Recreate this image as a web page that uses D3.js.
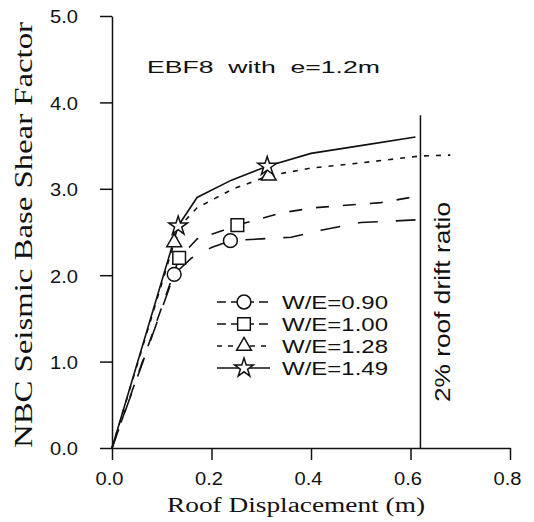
<!DOCTYPE html>
<html>
<head>
<meta charset="utf-8">
<script src="https://cdn.jsdelivr.net/npm/d3@7/dist/d3.min.js"></script>
<style>
  html, body { margin: 0; padding: 0; background: #fff; }
  svg { display: block; }
  text { fill: #111; }
</style>
</head>
<body>
<svg id="chart" width="534" height="522"></svg>
<script>
// Axis ticks
const xTicks = [0, 0.2, 0.4, 0.6, 0.8];
const yTicks = [0, 1, 2, 3, 4, 5];

// Legend labels, one per wall/earthquake ratio
const seriesLabels = ["W/E=0.90", "W/E=1.00", "W/E=1.28", "W/E=1.49"];
const seriesSymbols = ["circle", "square", "triangle", "star"];

// Pushover curves: roof displacement (m) vs. base shear factor
const curve090X = [0, 0.125, 0.16, 0.20, 0.238, 0.30, 0.36, 0.42, 0.50, 0.61];
const curve090Y = [0, 2.01, 2.20, 2.32, 2.40, 2.42, 2.44, 2.52, 2.61, 2.64];

const curve100X = [0, 0.135, 0.171, 0.224, 0.252, 0.339, 0.405, 0.54, 0.62];
const curve100Y = [0, 2.20, 2.42, 2.52, 2.58, 2.72, 2.78, 2.84, 2.92];

const curve128X = [0, 0.125, 0.145, 0.171, 0.244, 0.315, 0.40, 0.50, 0.62, 0.68];
const curve128Y = [0, 2.38, 2.62, 2.78, 3.00, 3.15, 3.24, 3.30, 3.38, 3.39];

const curve149X = [0, 0.133, 0.171, 0.24, 0.312, 0.40, 0.50, 0.61];
const curve149Y = [0, 2.57, 2.90, 3.10, 3.26, 3.41, 3.50, 3.60];

// Marked points on each curve
const mark090X = [0.125, 0.238];
const mark090Y = [2.01, 2.40];
const mark100X = [0.135, 0.252];
const mark100Y = [2.20, 2.58];
const mark128X = [0.125, 0.315];
const mark128Y = [2.38, 3.15];
const mark149X = [0.133, 0.312];
const mark149Y = [2.57, 3.26];

// 2% roof drift limit
const driftX = 0.62;
const driftTop = 3.85;

const svg = d3.select("#chart");
const x = d3.scaleLinear().domain([0, 0.8]).range([112, 510]);
const y = d3.scaleLinear().domain([0, 5]).range([448, 16]);

const plotFont = "'Liberation Sans', Arial, sans-serif";
const serifFont = "'Liberation Serif', 'Times New Roman', serif";

const zip = (xs, ys) => xs.map((v, i) => [v, ys[i]]);

const series = [
  { label: seriesLabels[0], sym: seriesSymbols[0], line: zip(curve090X, curve090Y), marks: zip(mark090X, mark090Y), dash: "20,18" },
  { label: seriesLabels[1], sym: seriesSymbols[1], line: zip(curve100X, curve100Y), marks: zip(mark100X, mark100Y), dash: "13,14" },
  { label: seriesLabels[2], sym: seriesSymbols[2], line: zip(curve128X, curve128Y), marks: zip(mark128X, mark128Y), dash: "5,7" },
  { label: seriesLabels[3], sym: seriesSymbols[3], line: zip(curve149X, curve149Y), marks: zip(mark149X, mark149Y), dash: null }
];

const symbolGen = {
  circle: d3.symbol().type(d3.symbolCircle).size(150),
  square: d3.symbol().type(d3.symbolSquare).size(160),
  triangle: d3.symbol().type(d3.symbolTriangle).size(95),
  star: d3.symbol().type(d3.symbolStar).size(110)
};

// Axes
const xAxis = d3.axisBottom(x).tickValues(xTicks).tickSize(12).tickSizeOuter(0)
  .tickFormat(d3.format(".1f"));
const yAxis = d3.axisLeft(y).tickValues(yTicks).tickSize(12).tickSizeOuter(0)
  .tickFormat(d3.format(".1f"));

const gx = svg.append("g").attr("transform", "translate(0,448)").call(xAxis);
const gy = svg.append("g").attr("transform", `translate(${x(0)},0)`).call(yAxis);

[gx, gy].forEach(g => {
  g.selectAll("path, line").attr("stroke", "#111").attr("stroke-width", 1.5);
  g.selectAll("text")
    .attr("font-family", plotFont)
    .attr("font-size", 18)
    .attr("textLength", 28)
    .attr("lengthAdjust", "spacingAndGlyphs")
    .attr("fill", "#111");
});
gx.selectAll("text").attr("y", 37).attr("dy", 0).attr("dx", -3);
gy.selectAll("text").attr("x", -34).attr("dy", "0.38em");

// Drift limit line and its label
svg.append("line")
  .attr("x1", x(driftX)).attr("x2", x(driftX))
  .attr("y1", y(0)).attr("y2", y(driftTop))
  .attr("stroke", "#111").attr("stroke-width", 1.5);

svg.append("text")
  .attr("transform", `translate(450,302) rotate(-90)`)
  .attr("text-anchor", "middle")
  .attr("font-family", plotFont)
  .attr("font-size", 22)
  .attr("textLength", 200)
  .attr("lengthAdjust", "spacingAndGlyphs")
  .text("2% roof drift ratio");

// Curves
const lineGen = d3.line().x(d => x(d[0])).y(d => y(d[1]));

series.forEach(s => {
  svg.append("path")
    .datum(s.line)
    .attr("d", lineGen)
    .attr("fill", "none")
    .attr("stroke", "#111")
    .attr("stroke-width", 1.6)
    .attr("stroke-dasharray", s.dash);
});

series.forEach(s => {
  svg.selectAll(null)
    .data(s.marks)
    .enter().append("path")
    .attr("transform", d => `translate(${x(d[0])},${y(d[1])})`)
    .attr("d", symbolGen[s.sym]())
    .attr("fill", "#fff")
    .attr("stroke", "#111")
    .attr("stroke-width", 1.5);
});

// Panel title
svg.append("text")
  .attr("x", 147).attr("y", 73)
  .attr("font-family", plotFont)
  .attr("font-size", 17)
  .attr("textLength", 233)
  .attr("lengthAdjust", "spacingAndGlyphs")
  .style("white-space", "pre")
  .text("EBF8  with  e=1.2m");

// Legend
const legend = svg.append("g");
series.forEach((s, i) => {
  const cy = 302 + i * 22;
  legend.append("line")
    .attr("x1", 217).attr("x2", 270)
    .attr("y1", cy).attr("y2", cy)
    .attr("stroke", "#111").attr("stroke-width", 1.5)
    .attr("stroke-dasharray", s.dash ? (i === 2 ? "5,6" : "9,5") : null);
  legend.append("path")
    .attr("transform", `translate(244,${cy})`)
    .attr("d", symbolGen[s.sym]())
    .attr("fill", "#fff")
    .attr("stroke", "#111")
    .attr("stroke-width", 1.5);
  legend.append("text")
    .attr("x", 282).attr("y", cy + 6.5)
    .attr("font-family", plotFont)
    .attr("font-size", 19)
    .attr("textLength", 106)
    .attr("lengthAdjust", "spacingAndGlyphs")
    .text(s.label);
});

// Axis titles
svg.append("text")
  .attr("x", 296).attr("y", 512)
  .attr("text-anchor", "middle")
  .attr("font-family", serifFont)
  .attr("font-size", 20)
  .attr("textLength", 258)
  .attr("lengthAdjust", "spacingAndGlyphs")
  .text("Roof Displacement (m)");

svg.append("text")
  .attr("transform", "translate(32,235) rotate(-90)")
  .attr("text-anchor", "middle")
  .attr("font-family", serifFont)
  .attr("font-size", 26)
  .attr("textLength", 426)
  .attr("lengthAdjust", "spacingAndGlyphs")
  .text("NBC Seismic Base Shear Factor");
</script>
</body>
</html>
